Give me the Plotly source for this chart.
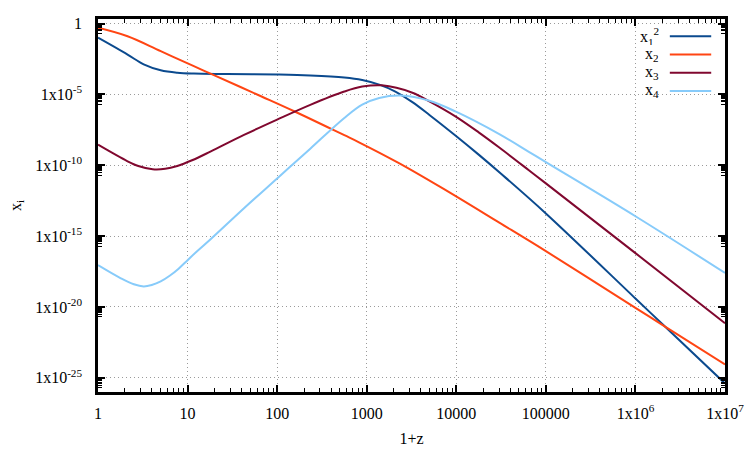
import numpy as np
import plotly.graph_objects as go

# ---- data (log10 values) ----
series_names = ["x<sub>1</sub><sup>2</sup>", "x<sub>2</sub>", "x<sub>3</sub>", "x<sub>4</sub>"]
series_colors = ["#0b4a8e", "#ff4513", "#80082f", "#87cbfa"]

log_z_x1sq = [0, 0.33, 0.51, 0.70, 0.885, 1.07, 1.44, 2.0, 2.37, 2.75, 2.95, 3.14, 3.32, 3.51, 3.70, 3.99, 4.25, 4.5, 5.0, 6.0, 6.3, 7.0]
log_x1sq = [-1.0, -2.19, -2.88, -3.30, -3.47, -3.53, -3.56, -3.60, -3.66, -3.80, -3.98, -4.31, -4.80, -5.55, -6.45, -7.90, -9.25, -10.6, -13.4, -19.4, -21.2, -25.4]

log_z_x2 = [0, 0.33, 0.70, 1.07, 1.30, 1.82, 2.19, 2.75, 2.914, 3.36, 3.84, 4.48, 5.0, 6.0, 6.3, 7.0]
log_x2 = [-0.30, -0.90, -1.95, -3.01, -3.66, -5.13, -6.19, -7.88, -8.38, -9.85, -11.6, -14.05, -16.06, -20.06, -21.26, -24.06]

log_z_x3 = [0, 0.33, 0.45, 0.61, 0.75, 0.885, 1.05, 1.26, 1.63, 2.0, 2.37, 2.75, 2.95, 3.17, 3.51, 3.70, 3.99, 4.25, 4.48, 4.81, 5.0, 6.0, 7.0]
log_x3 = [-8.55, -9.72, -10.05, -10.28, -10.25, -10.05, -9.65, -9.02, -7.86, -6.78, -5.74, -4.80, -4.45, -4.36, -4.88, -5.49, -6.55, -7.68, -8.75, -10.35, -11.28, -16.2, -21.15]

log_z_x4 = [0, 0.25, 0.40, 0.51, 0.60, 0.70, 0.80, 0.90, 1.0, 1.1, 1.26, 1.63, 2.0, 2.37, 2.75, 2.95, 3.14, 3.38, 3.70, 3.99, 4.48, 4.81, 5.0, 6.0, 7.0]
log_x4 = [-17.05, -17.96, -18.4, -18.55, -18.45, -18.2, -17.8, -17.3, -16.7, -16.1, -15.2, -13.03, -10.93, -8.83, -6.66, -5.72, -5.25, -5.08, -5.45, -6.2, -7.8, -9.05, -9.78, -13.6, -17.6]

x_tickvals = [1, 10, 100, 1000, 1e4, 1e5, 1e6, 1e7]
x_ticktext = ["1", "10", "100", "1000", "10000", "100000", "1x10<sup>6</sup>", "1x10<sup>7</sup>"]
y_tickvals = [1, 1e-5, 1e-10, 1e-15, 1e-20, 1e-25]
y_ticktext = ["1", "1x10<sup>-5</sup>", "1x10<sup>-10</sup>", "1x10<sup>-15</sup>", "1x10<sup>-20</sup>", "1x10<sup>-25</sup>"]

FONT = "Liberation Serif, Times New Roman, DejaVu Serif, serif"

fig = go.Figure()
pairs = [(log_z_x1sq, log_x1sq), (log_z_x2, log_x2), (log_z_x3, log_x3), (log_z_x4, log_x4)]
for (lx, ly), name, col in zip(pairs, series_names, series_colors):
    fig.add_trace(go.Scatter(
        x=np.power(10.0, lx), y=np.power(10.0, ly), mode="lines", name=name,
        line=dict(color=col, width=2, shape="spline", smoothing=1.0),
        showlegend=False))

# minor ticks
x_minor = [k * 10.0 ** d for d in range(0, 7) for k in range(2, 10)]
y_minor = [k * 10.0 ** (m - 1) for m in [0, -5, -10, -15, -20, -25] for k in range(2, 10)]

axis_common = dict(
    type="log", showline=True, linecolor="black", linewidth=2.5, mirror="ticks",
    ticks="inside", ticklen=7, tickwidth=1.5, tickcolor="black",
    showgrid=True, gridcolor="#9a9a9a", griddash="1px,3px", gridwidth=1,
    zeroline=False, automargin=False, tickfont=dict(family=FONT, size=16, color="black"),
)

fig.update_xaxes(**axis_common, range=[0, 7], tickmode="array", tickvals=x_tickvals, ticktext=x_ticktext,
                 ticklabelstandoff=5,
                 minor=dict(tickmode="array", tickvals=x_minor, ticks="inside", ticklen=4, tickcolor="black", tickwidth=1, showgrid=False),
                 title=dict(text="1+z", font=dict(family=FONT, size=16, color="black"), standoff=12))
fig.update_yaxes(**axis_common, range=[-26.0, 0.32], tickmode="array", tickvals=y_tickvals, ticktext=y_ticktext,
                 ticklabelstandoff=10,
                 minor=dict(tickmode="array", tickvals=y_minor, ticks="inside", ticklen=4, tickcolor="black", tickwidth=1, showgrid=False),
                 title=dict(text="x<sub>i</sub>", font=dict(family=FONT, size=16, color="black"), standoff=10))

# custom legend (text right, sample line on the right)
leg_y = [0.954, 0.905, 0.856, 0.807]
for name, col, yy in zip(series_names, series_colors, leg_y):
    fig.add_annotation(xref="paper", yref="paper", x=0.898, y=yy, text=name, showarrow=False,
                       xanchor="right", yanchor="middle", height=17, valign="middle",
                       font=dict(family=FONT, size=16, color="black"))
    fig.add_shape(type="line", xref="paper", yref="paper", x0=0.912, x1=0.978, y0=yy, y1=yy,
                  line=dict(color=col, width=2))

fig.update_layout(
    width=750, height=450, margin=dict(l=98, r=25, t=19, b=58),
    plot_bgcolor="white", paper_bgcolor="white",
    font=dict(family=FONT, size=16, color="black"),
)

fig.write_html("out.html")
